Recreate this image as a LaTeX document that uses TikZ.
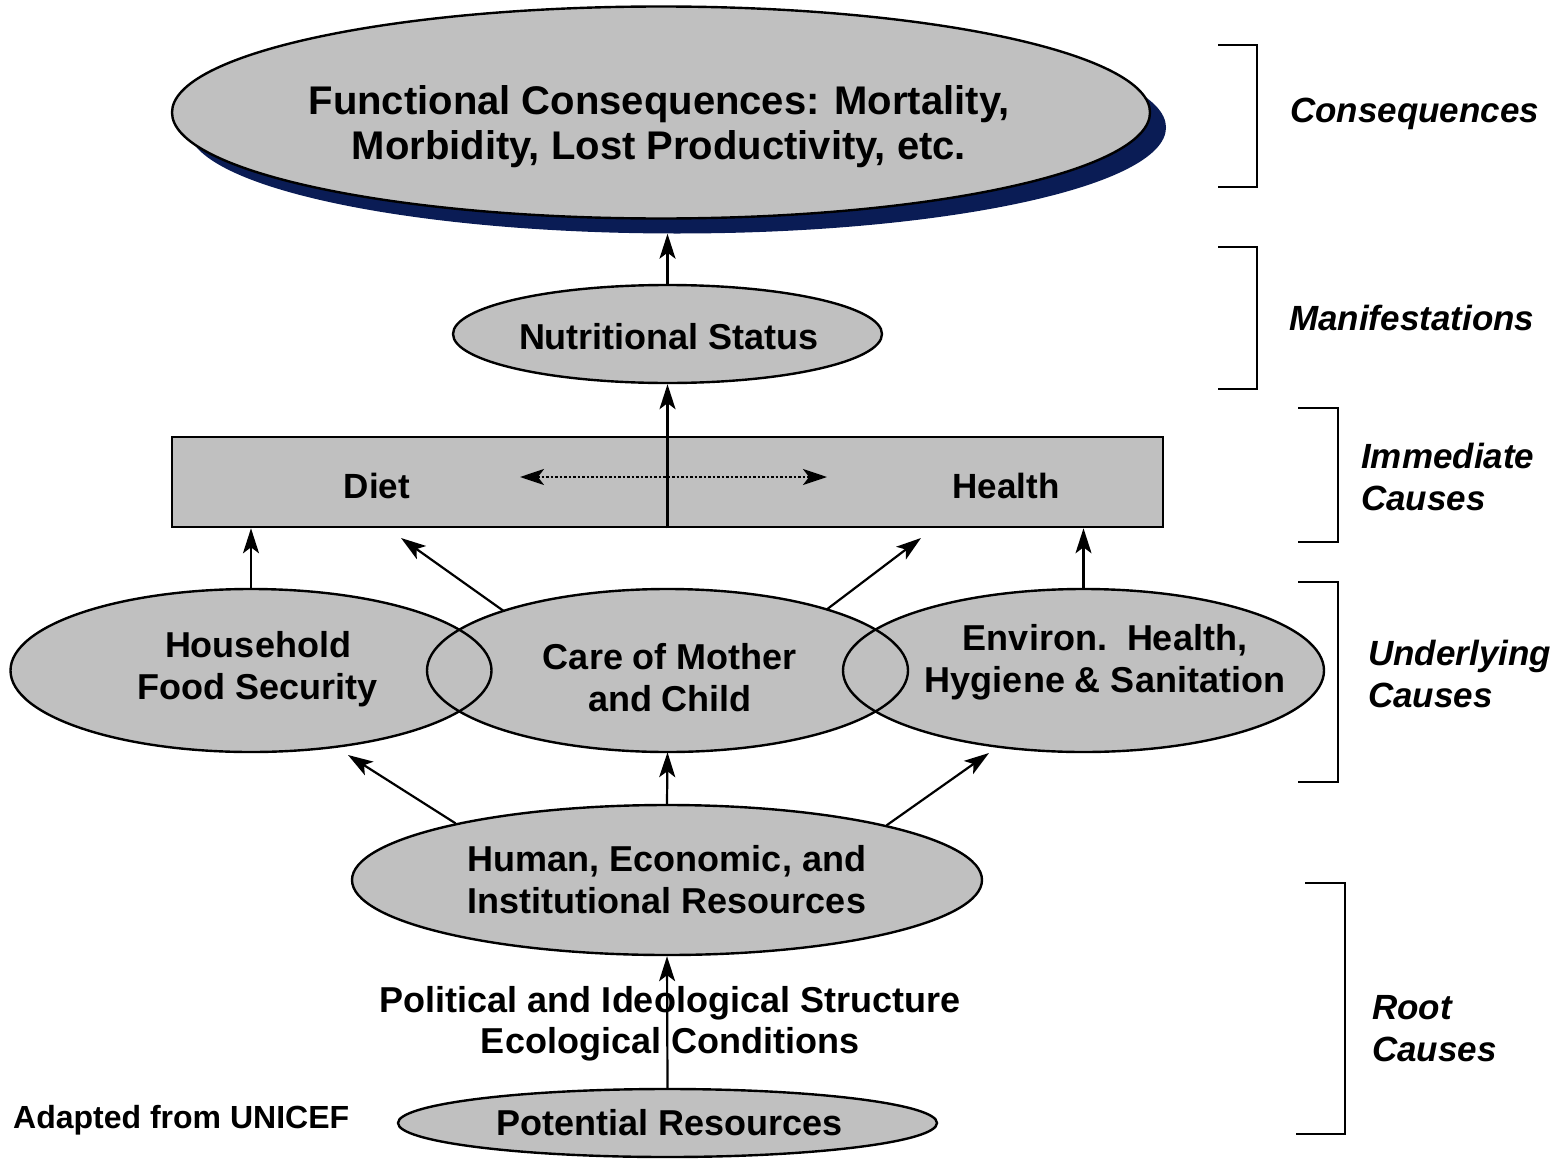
\documentclass[tikz,border=0pt]{standalone}
\usepackage{fontspec}
\setmainfont{Liberation Sans}
\usetikzlibrary{arrows.meta,shapes.geometric}
\definecolor{fillgray}{RGB}{192,192,192}
\definecolor{shadownavy}{RGB}{10,28,85}
\begin{document}
\begin{tikzpicture}[x=1pt,y=-1pt,
  lbl/.style={font=\bfseries\fontsize{36}{42}\selectfont, align=center, inner sep=0pt},
  side/.style={font=\bfseries\itshape\fontsize{35}{42}\selectfont, align=left, anchor=west, inner sep=0pt},
  oval/.style={ellipse, inner sep=0pt},
  uell/.style={ellipse, inner sep=0pt, minimum width=481pt, minimum height=163pt},
  outl/.style={draw, line width=2.4pt},
  arr/.style={line width=2.2pt, -{Stealth[length=25pt,width=16pt,inset=6pt]}},
  brk/.style={line width=2.6pt}
]
\useasboundingbox (0,0) rectangle (1564,1159);

% top: consequences
\node[oval, fill=shadownavy, minimum width=978pt, minimum height=212pt] (shadow) at (677,127.5) {};
\node[oval, fill=fillgray, outl, minimum width=978pt, minimum height=212pt] (top) at (661,112.5) {};
\node[lbl, font=\bfseries\fontsize{40}{45}\selectfont] (top-t) at (659,127) {Functional Consequences: Mortality,\\Morbidity, Lost Productivity, etc.};

% nutritional status
\node[oval, fill=fillgray, outl, minimum width=429pt, minimum height=98pt] (nut) at (667.5,334) {};
\node[lbl] (nut-t) at (669,337) {Nutritional Status};

% immediate causes box
\node[draw, fill=fillgray, line width=2.6pt, minimum width=991pt, minimum height=90pt, inner sep=0pt] (imm) at (667.5,482) {};
\node[lbl, font=\bfseries\fontsize{35}{42}\selectfont] (diet) at (377,486) {Diet};
\node[lbl, font=\bfseries\fontsize{35}{42}\selectfont] (health) at (1006,486) {Health};

% underlying causes: fills, then outlines
\node[uell, fill=fillgray] (hfs) at (251,670.5) {};
\node[uell, fill=fillgray] (care) at (667.5,670.5) {};
\node[uell, fill=fillgray] (env) at (1083.5,670.5) {};
\node[uell, outl] (hfs-o) at (hfs) {};
\node[uell, outl] (care-o) at (care) {};
\node[uell, outl] (env-o) at (env) {};
\node[lbl] (hfs-t) at (258,669) {Household\\Food Security};
\node[lbl] (care-t) at (670,678) {Care of Mother\\and Child};
\node[lbl] (env-t) at (1105,662) {Environ.\ \ Health,\\Hygiene \& Sanitation};

% resources
\node[oval, fill=fillgray, outl, minimum width=630pt, minimum height=150pt] (hum) at (667,880) {};
\node[lbl] (hum-t) at (667,880) {Human, Economic, and\\Institutional Resources};

\node[oval, fill=fillgray, outl, minimum width=539pt, minimum height=68pt] (pot) at (667.5,1123) {};
\node[lbl] (pot-t) at (670,1123) {Potential Resources};

\node[lbl, font=\bfseries\fontsize{36}{41}\selectfont] (pol-t) at (670,1024) {Political and Ideological Structure\\Ecological Conditions};
\node[lbl, anchor=west, font=\bfseries\fontsize{32}{38}\selectfont] (src) at (13,1120) {Adapted from UNICEF};

% connector end points
\coordinate (dl) at (401,538);
\coordinate (dr) at (921,538);
\coordinate (ul) at (348,755);
\coordinate (ur) at (989,753);
\coordinate (dotl) at (520,477);
\coordinate (dotr) at (827,477);

% arrows
\draw[arr] (nut.north) -- (nut.north |- shadow.south);
\draw[arr] (imm.south) -- (nut.south);
\draw[line width=2.4pt, dash pattern=on 2.5pt off 2pt,
  {Stealth[length=24pt,width=16pt,inset=6pt]}-{Stealth[length=24pt,width=16pt,inset=6pt]}] (dotl) -- (dotr);
\draw[arr] (hfs.north) -- (hfs.north |- imm.south);
\draw[arr] (care.160.8) -- (dl);
\draw[arr] (care.21.3) -- (dr);
\draw[arr] (env.north) -- (env.north |- imm.south);
\draw[arr] (hum.165) -- (ul);
\draw[arr] (hum.north) -- (care.south);
\draw[arr] (hum.14) -- (ur);
\draw[arr] (pot.north) -- (hum.south);

% brackets
\draw[brk] (1218,45) -- (1257,45) -- (1257,187) -- (1218,187);
\draw[brk] (1218,247) -- (1257,247) -- (1257,389) -- (1218,389);
\draw[brk] (1298,408) -- (1338,408) -- (1338,542) -- (1298,542);
\draw[brk] (1298,582) -- (1338,582) -- (1338,782) -- (1298,782);
\draw[brk] (1305,883) -- (1345,883) -- (1345,1134) -- (1296,1134);

% side labels
\node[side] (l-cons) at (1290,114) {Consequences};
\node[side] (l-man) at (1289,318) {Manifestations};
\node[side] (l-imm) at (1361,477) {Immediate\\Causes};
\node[side] (l-und) at (1368,674) {Underlying\\Causes};
\node[side] (l-root) at (1372,1029) {Root\\Causes};
\end{tikzpicture}
\end{document}
